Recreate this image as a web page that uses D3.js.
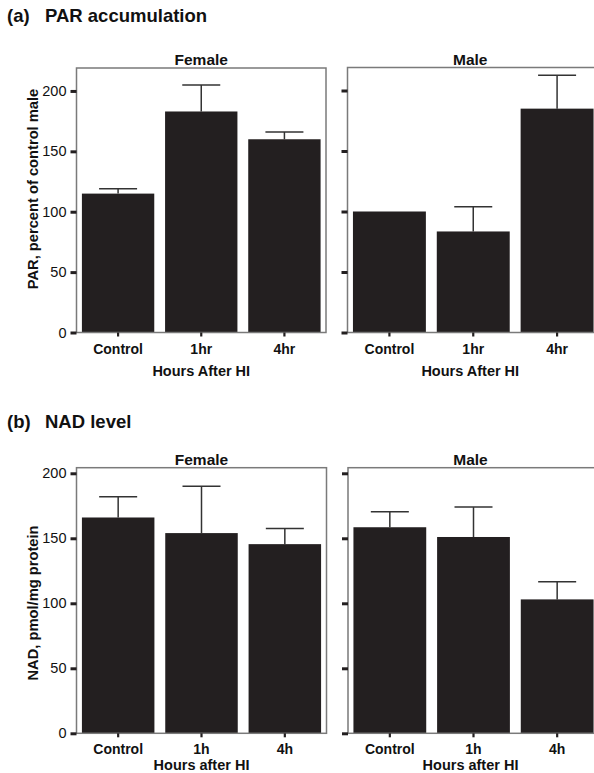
<!DOCTYPE html>
<html>
<head>
<meta charset="utf-8">
<script src="https://cdn.jsdelivr.net/npm/d3@7"></script>
<style>
  body { margin: 0; background: #fff; }
  svg text { font-family: "Liberation Sans", Arial, Helvetica, sans-serif; fill: #111; }
</style>
</head>
<body>
<svg id="chart" width="594" height="773"></svg>
<script>
// categories
var groupsA = ["Control", "1hr", "4hr"];
var groupsB = ["Control", "1h", "4h"];
var yTicks = [0, 50, 100, 150, 200];

// (a) PAR accumulation, percent of control male (mean, sem)
var parFemale = [115, 183, 160];
var parFemaleSem = [4, 22, 6];
var parMale = [100, 83.5, 185];
var parMaleSem = [0, 20.5, 27.5];

// (b) NAD level, pmol/mg protein (mean, sem)
var nadFemale = [166, 154, 145.5];
var nadFemaleSem = [16, 36, 12];
var nadMale = [158.5, 151, 103];
var nadMaleSem = [12, 23, 13.5];

var svg = d3.select("#chart");
var barColor = "#231f20";

function drawPanel(opt) {
    var g = svg.append("g");
    var x = d3.scaleBand()
        .domain(opt.cats)
        .range([opt.left, opt.right])
        .paddingInner(0.13)
        .paddingOuter(0.065);
    var y = d3.scaleLinear()
        .domain([0, opt.yMax])
        .range([opt.bottom, opt.top]);

    var rows = opt.cats.map(function(c, i){
        return {cat: c, v: opt.vals[i], e: opt.errs[i]};
    });

    // error bars (drawn under the bars)
    var eb = g.selectAll("g.err").data(rows.filter(function(d){ return d.e > 0; }))
        .enter().append("g").attr("class", "err")
        .attr("stroke", "#333").attr("stroke-width", 1.5);
    eb.append("line")
        .attr("x1", function(d){ return x(d.cat) + x.bandwidth() / 2; })
        .attr("x2", function(d){ return x(d.cat) + x.bandwidth() / 2; })
        .attr("y1", function(d){ return y(d.v); })
        .attr("y2", function(d){ return y(d.v + d.e); });
    eb.append("line")
        .attr("x1", function(d){ return x(d.cat) + x.bandwidth() / 2 - 19; })
        .attr("x2", function(d){ return x(d.cat) + x.bandwidth() / 2 + 19; })
        .attr("y1", function(d){ return y(d.v + d.e); })
        .attr("y2", function(d){ return y(d.v + d.e); });

    g.selectAll("rect.bar").data(rows).enter().append("rect")
        .attr("class", "bar")
        .attr("x", function(d){ return x(d.cat); })
        .attr("width", x.bandwidth())
        .attr("y", function(d){ return y(d.v); })
        .attr("height", function(d){ return y(0) - y(d.v); })
        .attr("fill", barColor);

    // frame
    g.append("rect")
        .attr("x", opt.left).attr("y", opt.top)
        .attr("width", opt.right - opt.left)
        .attr("height", opt.bottom - opt.top)
        .attr("fill", "none")
        .attr("stroke", "#7a7a7a")
        .attr("stroke-width", 1.5);

    // y axis
    var ya = g.append("g")
        .attr("transform", "translate(" + opt.left + ",0)")
        .call(d3.axisLeft(y).tickValues(yTicks).tickSize(6).tickPadding(4)
              .tickFormat(opt.yLabels ? d3.format("d") : ""));
    ya.select(".domain").remove();
    ya.selectAll(".tick line").attr("stroke", barColor).attr("stroke-width", 3);
    ya.selectAll(".tick text").style("font-size", "14.5px").attr("fill", "#111");

    // x axis
    var xa = g.append("g")
        .attr("transform", "translate(0," + opt.bottom + ")")
        .call(d3.axisBottom(x).tickSize(4).tickPadding(opt.xPad));
    xa.select(".domain").remove();
    xa.selectAll(".tick line").attr("stroke", barColor).attr("stroke-width", 2.2);
    xa.selectAll(".tick text").style("font-size", "14px").style("font-weight", "bold").attr("fill", "#111");

    g.append("text")
        .attr("x", (opt.left + opt.right) / 2 + (opt.titleShift || 0))
        .attr("y", opt.top - 3)
        .attr("text-anchor", "middle")
        .style("font-size", "15.5px").style("font-weight", "bold")
        .text(opt.title);

    g.append("text")
        .attr("x", (opt.left + opt.right) / 2 + (opt.xTitleShift || 0))
        .attr("y", opt.xTitleY)
        .attr("text-anchor", "middle")
        .style("font-size", "14.5px").style("font-weight", "bold")
        .text(opt.xTitle);
}

// panel (a)
svg.append("text").attr("x", 7).attr("y", 21.5)
    .style("font-size", "18.5px").style("font-weight", "bold").text("(a)");
svg.append("text").attr("x", 45).attr("y", 21.5)
    .style("font-size", "18.5px").style("font-weight", "bold").text("PAR accumulation");

drawPanel({left: 76.5, right: 326, top: 68, bottom: 332.5, yMax: 219,
    cats: groupsA, vals: parFemale, errs: parFemaleSem, yLabels: true,
    title: "Female", xTitle: "Hours After HI", xTitleY: 376, xPad: 8});
drawPanel({left: 347.5, right: 599, top: 67.5, bottom: 332.5, yMax: 219,
    cats: groupsA, vals: parMale, errs: parMaleSem, yLabels: false,
    title: "Male", xTitle: "Hours After HI", xTitleY: 376, xPad: 8, titleShift: -3, xTitleShift: -3});

svg.append("text")
    .attr("transform", "translate(38,189) rotate(-90)")
    .attr("text-anchor", "middle")
    .style("font-size", "14.7px").style("font-weight", "bold")
    .text("PAR, percent of control male");

// panel (b)
svg.append("text").attr("x", 7).attr("y", 428)
    .style("font-size", "18.5px").style("font-weight", "bold").text("(b)");
svg.append("text").attr("x", 45).attr("y", 428)
    .style("font-size", "18.5px").style("font-weight", "bold").text("NAD level");

drawPanel({left: 76.5, right: 326.5, top: 467.7, bottom: 733.3, yMax: 204.3,
    cats: groupsB, vals: nadFemale, errs: nadFemaleSem, yLabels: true,
    title: "Female", xTitle: "Hours after HI", xTitleY: 770, xPad: 7});
drawPanel({left: 348, right: 599, top: 467.7, bottom: 733.3, yMax: 204.3,
    cats: groupsB, vals: nadMale, errs: nadMaleSem, yLabels: false,
    title: "Male", xTitle: "Hours after HI", xTitleY: 770, xPad: 7, titleShift: -3, xTitleShift: -3});

svg.append("text")
    .attr("transform", "translate(38,603) rotate(-90)")
    .attr("text-anchor", "middle")
    .style("font-size", "14.7px").style("font-weight", "bold")
    .text("NAD, pmol/mg protein");
</script>
</body>
</html>
